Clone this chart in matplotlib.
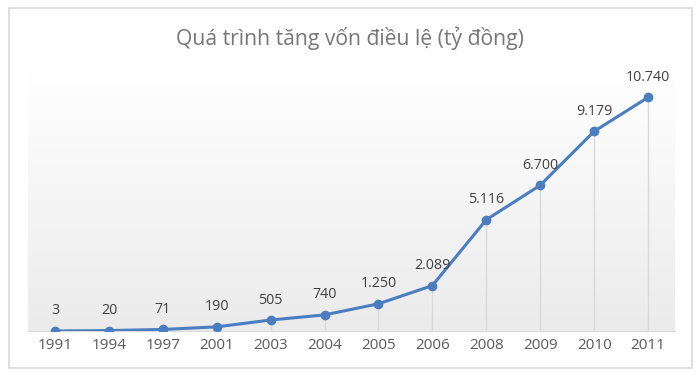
import matplotlib.pyplot as plt
import numpy as np
from matplotlib.patches import Rectangle

## Data
years = ['1991', '1994', '1997', '2001', '2003', '2004', '2005', '2006', '2008', '2009', '2010', '2011']
capital = [3, 20, 71, 190, 505, 740, 1250, 2089, 5116, 6700, 9179, 10740]

title = 'Quá trình tăng vốn điều lệ (tỷ đồng)'
line_color = '#4A7EC0'

plt.rcParams['font.family'] = ['Open Sans', 'DejaVu Sans']

fig = plt.figure(figsize=(7, 3.75), dpi=100)
fig.patch.set_facecolor('white')

# chart border
fig.patches.append(Rectangle((9 / 700, 7 / 375), 683 / 700, 360 / 375, transform=fig.transFigure,
                             fill=False, edgecolor='#D9D9D9', linewidth=1.2))

ax = fig.add_axes([28 / 700, 44 / 375, 647 / 700, 261 / 375])
x = np.arange(len(years))
ax.set_xlim(-0.5, len(years) - 0.5)
ax.set_ylim(0, 12000)

# gradient background of the plot area
grad = np.linspace(0, 1, 256).reshape(-1, 1)
ax.imshow(grad, extent=(-0.5, len(years) - 0.5, 0, 12000), aspect='auto',
          cmap=plt.matplotlib.colors.LinearSegmentedColormap.from_list('g', ['#EBEBEB', '#FFFFFF']),
          origin='lower', zorder=0)

# drop lines
ax.vlines(x, 0, capital, color='#D9D9D9', linewidth=1, zorder=1)

ax.plot(x, capital, color=line_color, linewidth=2.2, marker='o', markersize=6, zorder=3)

for xi, v in zip(x, capital):
    ax.annotate(f'{v:,}'.replace(',', '.'), (xi, v), xytext=(0, 9), textcoords='offset points',
                ha='center', va='bottom', fontsize=10.3, color='#404040')

ax.set_xticks(x)
ax.set_xticklabels(years, fontsize=11, color='#595959')
ax.set_yticks([])
ax.tick_params(axis='x', length=0, pad=5)
for s in ['left', 'right', 'top']:
    ax.spines[s].set_visible(False)
ax.spines['bottom'].set_color('#D9D9D9')

fig.text(0.5, 0.898, title, ha='center', va='center', fontsize=15.2, color='#767676')

fig.savefig('out.png', dpi=100)
